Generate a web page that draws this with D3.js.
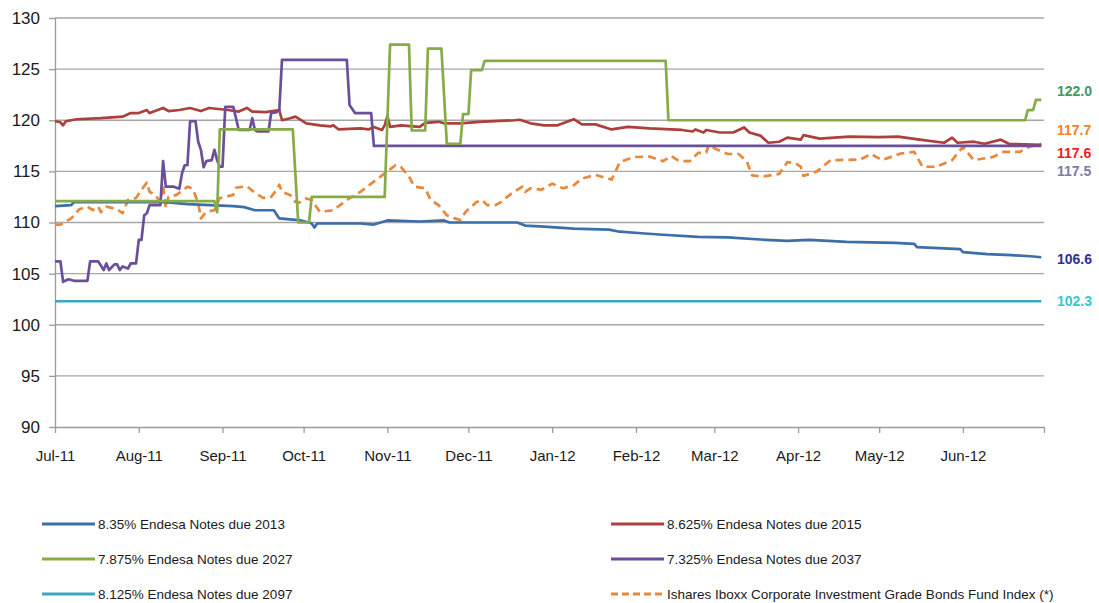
<!DOCTYPE html>
<html>
<head>
<meta charset="utf-8">
<script src="https://cdn.jsdelivr.net/npm/d3@7"></script>
<style>
    body { margin: 0; background: #fff; }
    svg { font-family: "Liberation Sans", Arial, sans-serif; }
    .axis path, .axis line { stroke: #9a9a9a; stroke-width: 1.3px; }
    .axis text { fill: #1a1a1a; }
    .grid line { stroke: #a6a6a6; stroke-width: 1.3px; }
</style>
</head>
<body>
<div id="chart"></div>
<script>

// ---- data ----
let notes2013 = [
    ["2011-07-01", 111.6], ["2011-07-07", 111.7], ["2011-07-08", 112.0], ["2011-08-11", 112.0],
    ["2011-08-19", 111.8], ["2011-09-05", 111.6], ["2011-09-09", 111.5], ["2011-09-13", 111.2],
    ["2011-09-20", 111.2], ["2011-09-22", 110.4], ["2011-09-26", 110.3], ["2011-09-30", 110.2],
    ["2011-10-03", 110.0], ["2011-10-04", 109.9], ["2011-10-05", 109.5], ["2011-10-06", 109.9],
    ["2011-10-22", 109.9], ["2011-10-27", 109.8], ["2011-11-01", 110.2], ["2011-11-13", 110.1],
    ["2011-11-22", 110.2], ["2011-11-24", 110.0], ["2011-12-19", 110.0], ["2011-12-22", 109.7],
    ["2011-12-29", 109.6], ["2012-01-09", 109.4], ["2012-01-22", 109.3], ["2012-01-26", 109.1],
    ["2012-02-03", 108.95], ["2012-02-11", 108.8], ["2012-02-24", 108.6], ["2012-03-06", 108.55],
    ["2012-03-20", 108.3], ["2012-03-28", 108.2], ["2012-04-05", 108.3], ["2012-04-19", 108.1],
    ["2012-05-07", 108.0], ["2012-05-14", 107.9], ["2012-05-15", 107.6], ["2012-05-31", 107.4],
    ["2012-06-01", 107.1], ["2012-06-10", 106.9], ["2012-06-19", 106.8], ["2012-06-26", 106.7],
    ["2012-06-30", 106.6]
];

let notes2015 = [
    ["2011-07-01", 119.9], ["2011-07-03", 119.8], ["2011-07-04", 119.5], ["2011-07-05", 119.9],
    ["2011-07-09", 120.1], ["2011-07-18", 120.2], ["2011-07-26", 120.35], ["2011-07-29", 120.7],
    ["2011-08-01", 120.7], ["2011-08-04", 121.0], ["2011-08-05", 120.7], ["2011-08-10", 121.2],
    ["2011-08-12", 120.9], ["2011-08-16", 121.0], ["2011-08-20", 121.2], ["2011-08-24", 120.9],
    ["2011-08-27", 121.2], ["2011-09-03", 121.0], ["2011-09-07", 120.85], ["2011-09-10", 121.2],
    ["2011-09-12", 120.85], ["2011-09-17", 120.8], ["2011-09-22", 121.0], ["2011-09-23", 120.0],
    ["2011-09-26", 120.2], ["2011-09-28", 120.35], ["2011-10-02", 119.7], ["2011-10-07", 119.5],
    ["2011-10-11", 119.4], ["2011-10-12", 119.5], ["2011-10-14", 119.1], ["2011-10-22", 119.2],
    ["2011-10-25", 119.1], ["2011-10-27", 119.35], ["2011-10-30", 119.05], ["2011-10-31", 119.5],
    ["2011-11-01", 120.4], ["2011-11-02", 119.35], ["2011-11-06", 119.5], ["2011-11-13", 119.35],
    ["2011-11-15", 119.75], ["2011-11-20", 119.85], ["2011-11-22", 119.7], ["2011-11-28", 119.7],
    ["2011-12-05", 119.85], ["2011-12-18", 120.0], ["2011-12-20", 120.05], ["2011-12-24", 119.7],
    ["2011-12-29", 119.5], ["2012-01-03", 119.5], ["2012-01-09", 120.1], ["2012-01-12", 119.6],
    ["2012-01-17", 119.6], ["2012-01-23", 119.1], ["2012-01-29", 119.35], ["2012-02-06", 119.2],
    ["2012-02-18", 119.05], ["2012-02-22", 118.9], ["2012-02-23", 119.1], ["2012-02-26", 118.8],
    ["2012-02-27", 119.05], ["2012-03-03", 118.8], ["2012-03-08", 118.8], ["2012-03-12", 119.3],
    ["2012-03-14", 118.8], ["2012-03-18", 118.5], ["2012-03-21", 117.8], ["2012-03-25", 117.9],
    ["2012-03-28", 118.3], ["2012-04-02", 118.1], ["2012-04-03", 118.55], ["2012-04-09", 118.2],
    ["2012-04-20", 118.4], ["2012-05-01", 118.35], ["2012-05-08", 118.4], ["2012-05-16", 118.1],
    ["2012-05-25", 117.8], ["2012-05-28", 118.3], ["2012-05-30", 117.8], ["2012-06-05", 117.9],
    ["2012-06-09", 117.7], ["2012-06-15", 118.1], ["2012-06-18", 117.7], ["2012-06-30", 117.6]
];

let notes2027 = [
    ["2011-07-01", 112.1], ["2011-08-29", 112.1], ["2011-08-30", 111.0], ["2011-08-31", 119.1],
    ["2011-09-27", 119.1], ["2011-09-29", 110.0], ["2011-10-03", 110.0], ["2011-10-04", 112.5],
    ["2011-10-31", 112.5], ["2011-11-02", 127.4], ["2011-11-09", 127.4], ["2011-11-10", 119.0],
    ["2011-11-15", 119.0], ["2011-11-16", 127.0], ["2011-11-21", 127.0], ["2011-11-23", 117.7],
    ["2011-11-28", 117.7], ["2011-11-29", 120.6], ["2011-12-01", 120.6], ["2011-12-02", 124.9],
    ["2011-12-06", 124.9], ["2011-12-07", 125.8], ["2012-02-12", 125.8], ["2012-02-13", 120.0],
    ["2012-06-24", 120.0], ["2012-06-25", 121.0], ["2012-06-27", 121.0], ["2012-06-28", 122.0],
    ["2012-06-30", 122.0]
];

let notes2037 = [
    ["2011-07-01", 106.2], ["2011-07-03", 106.2], ["2011-07-04", 104.2], ["2011-07-06", 104.45],
    ["2011-07-08", 104.3], ["2011-07-13", 104.3], ["2011-07-14", 106.2], ["2011-07-17", 106.2],
    ["2011-07-19", 105.35], ["2011-07-20", 106.0], ["2011-07-21", 105.35], ["2011-07-23", 105.9],
    ["2011-07-24", 105.9], ["2011-07-25", 105.35], ["2011-07-26", 105.7], ["2011-07-28", 105.5],
    ["2011-07-29", 106.0], ["2011-07-31", 106.0], ["2011-08-01", 108.3], ["2011-08-02", 108.3],
    ["2011-08-03", 110.7], ["2011-08-04", 110.9], ["2011-08-05", 111.7], ["2011-08-09", 111.7],
    ["2011-08-10", 116.0], ["2011-08-11", 113.5], ["2011-08-14", 113.5], ["2011-08-16", 113.3],
    ["2011-08-17", 114.8], ["2011-08-18", 115.6], ["2011-08-19", 115.6], ["2011-08-20", 119.9],
    ["2011-08-22", 119.9], ["2011-08-23", 117.9], ["2011-08-24", 117.1], ["2011-08-25", 115.4],
    ["2011-08-26", 116.0], ["2011-08-28", 116.1], ["2011-08-29", 117.1], ["2011-08-30", 116.1],
    ["2011-08-31", 115.45], ["2011-09-01", 115.45], ["2011-09-02", 121.3], ["2011-09-05", 121.3],
    ["2011-09-07", 119.05], ["2011-09-11", 119.05], ["2011-09-12", 120.2], ["2011-09-13", 119.05],
    ["2011-09-14", 118.9], ["2011-09-18", 118.9], ["2011-09-19", 120.7], ["2011-09-21", 120.8],
    ["2011-09-22", 121.0], ["2011-09-23", 125.9], ["2011-10-17", 125.9], ["2011-10-18", 121.5],
    ["2011-10-20", 120.7], ["2011-10-26", 120.7], ["2011-10-27", 117.5], ["2012-06-30", 117.5]
];

let notes2097 = [
    ["2011-07-01", 102.3], ["2012-06-30", 102.3]
];

let iboxxIndex = [
    ["2011-07-01", 109.8], ["2011-07-03", 109.8], ["2011-07-07", 110.4], ["2011-07-10", 111.3],
    ["2011-07-13", 111.55], ["2011-07-15", 111.2], ["2011-07-17", 111.55], ["2011-07-18", 111.0],
    ["2011-07-20", 111.55], ["2011-07-24", 111.3], ["2011-07-26", 110.9], ["2011-07-28", 112.2],
    ["2011-07-31", 112.4], ["2011-08-02", 113.2], ["2011-08-04", 113.9], ["2011-08-05", 113.0],
    ["2011-08-07", 112.7], ["2011-08-09", 112.0], ["2011-08-10", 113.7], ["2011-08-11", 111.4],
    ["2011-08-12", 112.5], ["2011-08-15", 112.7], ["2011-08-19", 113.5], ["2011-08-21", 113.3],
    ["2011-08-23", 111.9], ["2011-08-24", 110.4], ["2011-08-26", 111.05], ["2011-08-29", 111.2],
    ["2011-08-31", 112.4], ["2011-09-02", 112.5], ["2011-09-05", 112.7], ["2011-09-06", 113.4],
    ["2011-09-10", 113.55], ["2011-09-13", 112.9], ["2011-09-16", 112.4], ["2011-09-19", 112.5],
    ["2011-09-21", 113.2], ["2011-09-22", 113.7], ["2011-09-23", 113.0], ["2011-09-26", 112.7],
    ["2011-09-28", 112.0], ["2011-09-29", 111.9], ["2011-10-02", 112.35], ["2011-10-04", 112.2],
    ["2011-10-07", 111.05], ["2011-10-12", 111.2], ["2011-10-17", 112.2], ["2011-10-22", 113.0],
    ["2011-10-26", 113.8], ["2011-10-31", 114.8], ["2011-11-04", 115.6], ["2011-11-06", 115.45],
    ["2011-11-09", 114.5], ["2011-11-11", 113.5], ["2011-11-15", 113.35], ["2011-11-17", 112.2],
    ["2011-11-20", 111.7], ["2011-11-23", 110.7], ["2011-11-26", 110.4], ["2011-11-28", 110.25],
    ["2011-11-30", 111.05], ["2011-12-04", 112.0], ["2011-12-06", 112.2], ["2011-12-08", 111.7],
    ["2011-12-11", 111.7], ["2011-12-13", 112.0], ["2011-12-17", 112.85], ["2011-12-21", 113.5],
    ["2011-12-22", 113.0], ["2011-12-24", 113.35], ["2011-12-28", 113.2], ["2012-01-01", 113.8],
    ["2012-01-05", 113.35], ["2012-01-09", 113.65], ["2012-01-12", 114.3], ["2012-01-17", 114.65],
    ["2012-01-23", 114.2], ["2012-01-26", 115.9], ["2012-01-31", 116.4], ["2012-02-06", 116.45],
    ["2012-02-11", 116.0], ["2012-02-14", 116.5], ["2012-02-17", 116.0], ["2012-02-21", 116.0],
    ["2012-02-24", 116.8], ["2012-02-27", 116.85], ["2012-02-28", 117.6], ["2012-03-01", 117.25],
    ["2012-03-06", 116.7], ["2012-03-10", 116.7], ["2012-03-13", 116.0], ["2012-03-15", 114.6],
    ["2012-03-19", 114.5], ["2012-03-25", 114.75], ["2012-03-28", 115.9], ["2012-03-31", 115.8],
    ["2012-04-02", 115.45], ["2012-04-03", 114.55], ["2012-04-08", 115.0], ["2012-04-13", 116.1],
    ["2012-04-24", 116.15], ["2012-04-28", 116.7], ["2012-05-02", 116.1], ["2012-05-09", 116.75],
    ["2012-05-14", 116.9], ["2012-05-17", 115.45], ["2012-05-22", 115.45], ["2012-05-28", 116.1],
    ["2012-06-01", 117.4], ["2012-06-05", 116.1], ["2012-06-12", 116.4], ["2012-06-16", 116.9],
    ["2012-06-22", 116.9], ["2012-06-26", 117.45], ["2012-06-30", 117.7]
];

let seriesNames = [
    "8.35% Endesa Notes due 2013",
    "8.625% Endesa Notes due 2015",
    "7.875% Endesa Notes due 2027",
    "7.325% Endesa Notes due 2037",
    "8.125% Endesa Notes due 2097",
    "Ishares Iboxx Corporate Investment Grade Bonds Fund Index (*)"
];
let seriesColors = ["#3c6ea8", "#ad3f3c", "#86ab47", "#6b4f9a", "#3aa6c1", "#e8883c"];

let yTicks = [90, 95, 100, 105, 110, 115, 120, 125, 130];

// last values written at the right edge
let endLabels = ["122.0", "117.7", "117.6", "117.5", "106.6", "102.3"];
let endLabelColors = ["#3a9a68", "#f5821f", "#ee1c24", "#7b7ba9", "#2e3192", "#35c9cc"];


// ---- drawing ----
let margin = {top: 18, right: 55, bottom: 176, left: 55};
let width = 1099 - margin.left - margin.right;
let height = 603 - margin.top - margin.bottom;

let parseDate = d3.timeParse("%Y-%m-%d");

let svg = d3.select("#chart").append("svg")
    .attr("width", 1099)
    .attr("height", 603)
    .append("g")
    .attr("transform", `translate(${margin.left}, ${margin.top})`);

let xScale = d3.scaleTime()
    .domain([parseDate("2011-07-01"), parseDate("2012-07-01")])
    .range([0, width]);

let yScale = d3.scaleLinear()
    .domain([90, 130])
    .range([height, 0]);

// horizontal grid
svg.append("g")
    .attr("class", "grid")
    .selectAll("line")
    .data(yTicks.filter(d => d !== 90))
    .enter()
    .append("line")
    .attr("x1", 0)
    .attr("x2", width)
    .attr("y1", d => yScale(d))
    .attr("y2", d => yScale(d));

// axes
let yAxisGroup = svg.append("g")
    .attr("class", "axis y-axis")
    .call(d3.axisLeft(yScale).tickValues(yTicks).tickSize(6).tickPadding(9).tickSizeOuter(0));
yAxisGroup.selectAll("text").style("font-size", "17px");

let months = d3.timeMonth.range(parseDate("2011-07-01"), parseDate("2012-07-02"));
let monthFormat = d3.timeFormat("%b-%y");

let xAxisGroup = svg.append("g")
    .attr("class", "axis x-axis")
    .attr("transform", `translate(0, ${height})`)
    .call(d3.axisBottom(xScale)
        .tickValues(months)
        .tickSize(6)
        .tickPadding(17)
        .tickSizeOuter(0)
        .tickFormat((d, i) => i === months.length - 1 ? "" : monthFormat(d)));
xAxisGroup.selectAll("text").style("font-size", "15px");

// lines
let allSeries = [notes2013, notes2015, notes2027, notes2037, notes2097, iboxxIndex];

let line = d3.line()
    .x(d => xScale(parseDate(d[0])))
    .y(d => yScale(d[1]));

// draw order: teal first, index dashed, then the notes
let drawOrder = [4, 5, 0, 1, 3, 2];
drawOrder.forEach(i => {
    svg.append("path")
        .datum(allSeries[i])
        .attr("fill", "none")
        .attr("stroke", seriesColors[i])
        .attr("stroke-width", 2.7)
        .attr("stroke-linejoin", "round")
        .attr("stroke-dasharray", i === 5 ? "8,5" : null)
        .attr("d", line);
});

// end value labels
let labelShift = [-9, -14, 8, 25, 2, 0];
let lastValues = [notes2027, iboxxIndex, notes2015, notes2037, notes2013, notes2097]
    .map(s => s[s.length - 1][1]);

svg.selectAll(".end-label")
    .data(endLabels)
    .enter()
    .append("text")
    .attr("class", "end-label")
    .attr("x", width + 13)
    .attr("y", (d, i) => yScale(lastValues[i]) + labelShift[i])
    .attr("dy", "0.35em")
    .style("font-size", "14px")
    .style("font-weight", "bold")
    .attr("fill", (d, i) => endLabelColors[i])
    .text(d => d);

// legend
let legend = d3.select("svg").append("g")
    .attr("class", "legend");

seriesNames.forEach((name, i) => {
    let col = i % 2;
    let row = Math.floor(i / 2);
    let lx = col === 0 ? 42 : 611;
    let ly = 524 + row * 35;

    legend.append("line")
        .attr("x1", lx)
        .attr("x2", lx + 53)
        .attr("y1", ly)
        .attr("y2", ly)
        .attr("stroke", seriesColors[i])
        .attr("stroke-width", 3)
        .attr("stroke-dasharray", i === 5 ? "7,4" : null);

    legend.append("text")
        .attr("x", lx + 56)
        .attr("y", ly)
        .attr("dy", "0.35em")
        .style("font-size", "13.5px")
        .attr("fill", "#1a1a1a")
        .text(name);
});

</script>
</body>
</html>
